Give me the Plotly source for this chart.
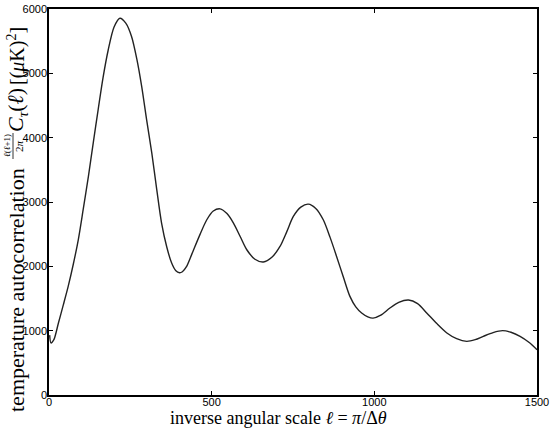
import plotly.graph_objects as go

ell = [2, 6, 15, 29, 44, 59, 75, 90, 105, 121, 136, 151, 166, 182, 200, 218, 236, 254,
       270, 285, 300, 316, 331, 346, 362, 377, 390, 401, 410, 422, 439, 462, 485, 505, 526,
       547, 567, 588, 608, 633, 659, 685, 710, 731, 751, 774, 797, 820, 843, 864, 884,
       905, 925, 943, 961, 980, 996, 1020, 1048, 1075, 1105, 1133, 1161, 1192, 1223,
       1253, 1284, 1310, 1335, 1365, 1394, 1420, 1448, 1475, 1500]
power = [930, 809, 860, 1120, 1400, 1688, 2040, 2413, 2880, 3396, 3920, 4432, 4930, 5363,
         5720, 5856, 5780, 5570, 5220, 4793, 4280, 3759, 3200, 2672, 2300, 2051, 1930, 1900,
         1915, 1990, 2190, 2470, 2724, 2860, 2894, 2820, 2672, 2460, 2258, 2110, 2067, 2140, 2309,
         2540, 2775, 2920, 2967, 2900, 2724, 2450, 2154, 1830, 1533, 1370, 1275, 1215, 1195,
         1240, 1352, 1440, 1477, 1420, 1275, 1110, 964, 875, 834, 860, 912, 970, 1000, 975,
         912, 820, 705]

x_ticks = [0, 500, 1000, 1500]
y_ticks = [0, 1000, 2000, 3000, 4000, 5000, 6000]

W, H = 551, 430
ML, MR, MT, MB = 49, 14, 9, 35
PW, PH = W - ML - MR, H - MT - MB


def px(x):
    return (x - ML) / PW


def py(y):
    return (H - MB - y) / PH


SERIF = "Liberation Serif, Times New Roman, serif"

fig = go.Figure()
fig.add_trace(go.Scatter(x=ell, y=power, mode="lines",
                         line=dict(color="#222222", width=1.4, shape="spline", smoothing=0.8),
                         showlegend=False, hoverinfo="skip"))

axis_common = dict(showline=True, linecolor="black", linewidth=1.5, mirror="ticks",
                   ticks="inside", ticklen=4, tickwidth=1, tickcolor="black",
                   showgrid=False, zeroline=False,
                   tickfont=dict(family="Liberation Sans, Arial, sans-serif", size=11, color="black"))

fig.update_layout(
    width=W, height=H,
    margin=dict(l=ML, r=MR, t=MT, b=MB),
    paper_bgcolor="white", plot_bgcolor="white",
    xaxis=dict(range=[0, 1500], tickvals=x_ticks, ticktext=[str(v) for v in x_ticks],
               ticklabelstandoff=-4, automargin=False, **axis_common),
    yaxis=dict(range=[0, 6000], tickvals=y_ticks, ticktext=[str(v) for v in y_ticks],
               ticklabelstandoff=-2, automargin=False, **axis_common),
)

# x-axis title
fig.add_annotation(text="inverse angular scale <i>ℓ</i> = <i>π</i>/Δ<i>θ</i>",
                   xref="paper", yref="paper", x=px(278), y=py(418),
                   xanchor="center", yanchor="middle", showarrow=False,
                   font=dict(family=SERIF, size=18, color="black"))

# y-axis title pieces (rotated)
ytitle_parts = [
    ("temperature autocorrelation", 22, 17, 290),
    ("<i>ℓ</i>(<i>ℓ</i>+1)", 9, 7, 146),
    ("2<i>π</i>", 11, 19, 146),
    ("<i>C</i><sub><i>τ</i></sub>(<i>ℓ</i>)", 22, 17, 110),
    ("[(<i>μ</i>K)<sup>2</sup>]", 20, 17, 56),
]
for txt, size, cx, cy in ytitle_parts:
    fig.add_annotation(text=txt, xref="paper", yref="paper", x=px(cx), y=py(cy),
                       xanchor="center", yanchor="middle", textangle=-90, showarrow=False,
                       font=dict(family=SERIF, size=size, color="black"))

# fraction bar of the stacked fraction in the y title
fig.add_shape(type="line", xref="paper", yref="paper",
              x0=px(13), x1=px(13), y0=py(159), y1=py(133),
              line=dict(color="black", width=0.8))

fig.write_html("out.html")
